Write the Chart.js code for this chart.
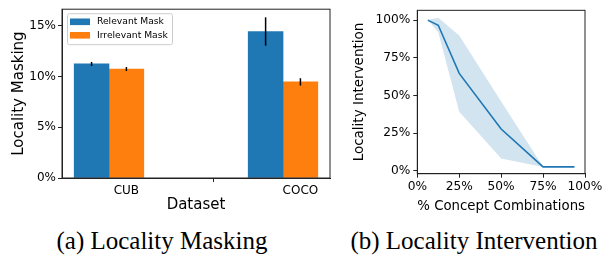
<!DOCTYPE html>
<html>
<head>
<meta charset="utf-8">
<script src="https://cdn.jsdelivr.net/npm/chart.js@4.4.1/dist/chart.umd.min.js"></script>
<style>
body { margin: 0; background: #fff; width: 608px; height: 259px; overflow: hidden; position: relative; }
canvas { position: absolute; top: 0; }
#maskChart { left: 0; }
#interventionChart { left: 340px; }
.caption { position: absolute; top: 227px; font-family: 'Liberation Serif'; font-size: 25px; line-height: 28px; color: #000; white-space: nowrap; transform: translateX(-50%); }
</style>
</head>
<body>
<canvas id="maskChart" width="340" height="220"></canvas>
<canvas id="interventionChart" width="268" height="220"></canvas>
<div class="caption" style="left:162px">(a) Locality Masking</div>
<div class="caption" style="left:474px">(b) Locality Intervention</div>
<script>
// (a) locality masking
const categories = ['CUB', 'COCO'];
const relevantMask = [11.25, 14.45];
const relevantErr = [0.2, 1.4];
const irrelevantMask = [10.75, 9.48];
const irrelevantErr = [0.2, 0.36];
const maskTicks = [0, 5, 10, 15];

// (b) locality intervention
const combinations = [6.25, 12.5, 25, 50, 75, 93.75];
const interventionMean = [100, 96.6, 64.6, 27.7, 2.5, 2.5];
const interventionUpper = [100, 101.6, 89.7, 46, 2.6, 2.5];
const interventionLower = [100, 92, 39.2, 8.1, 2.4, 2.5];
const interventionTicks = [0, 25, 50, 75, 100];
const combinationTicks = [0, 25, 50, 75, 100];

const BLUE = '#1f77b4';
const ORANGE = '#ff7f0e';
const INK = '#222';
Chart.defaults.font.family = 'DejaVu Sans';
Chart.defaults.color = '#000';

const barWidth = 0.2;

const frame = {
    id: 'frame',
    afterDraw(chart) {
        const {ctx, chartArea: a} = chart;
        ctx.save();
        ctx.strokeStyle = INK;
        ctx.lineWidth = 1;
        ctx.strokeRect(a.left, a.top, a.right - a.left, a.bottom - a.top);
        ctx.restore();
    }
};

const errorBars = {
    id: 'errorBars',
    afterDatasetsDraw(chart) {
        const ctx = chart.ctx;
        const yScale = chart.scales.y;
        chart.data.datasets.forEach((ds, di) => {
            const meta = chart.getDatasetMeta(di);
            meta.data.forEach((bar, i) => {
                const v = ds.data[i].y;
                const e = ds.errors[i];
                ctx.save();
                ctx.strokeStyle = '#000';
                ctx.lineWidth = 1.5;
                ctx.beginPath();
                ctx.moveTo(bar.x, yScale.getPixelForValue(v - e));
                ctx.lineTo(bar.x, yScale.getPixelForValue(v + e));
                ctx.stroke();
                ctx.restore();
            });
        });
    }
};

const boxLegend = {
    id: 'boxLegend',
    afterDraw(chart) {
        const {ctx, chartArea: a} = chart;
        const x = a.left + 5, y = a.top + 4, w = 105, h = 31;
        ctx.save();
        ctx.fillStyle = 'rgba(255,255,255,0.8)';
        ctx.strokeStyle = '#ccc';
        ctx.lineWidth = 1;
        ctx.beginPath();
        ctx.roundRect(x + 0.5, y + 0.5, w, h, 2);
        ctx.fill();
        ctx.stroke();
        ctx.font = '9.2px "DejaVu Sans"';
        ctx.textBaseline = 'middle';
        chart.data.datasets.forEach((ds, i) => {
            const rowY = y + 8.5 + i * 13.5;
            ctx.fillStyle = ds.backgroundColor;
            ctx.fillRect(x + 3, rowY - 3.2, 20, 6.6);
            ctx.fillStyle = '#000';
            ctx.fillText(ds.label, x + 30, rowY);
        });
        ctx.restore();
    }
};

function pctTick(v) {
    return v + '%';
}

new Chart(document.getElementById('maskChart'), {
    type: 'bar',
    data: {
        datasets: [
            {
                label: 'Relevant Mask',
                data: relevantMask.map((v, i) => ({x: i, y: v})),
                errors: relevantErr,
                backgroundColor: BLUE
            },
            {
                label: 'Irrelevant Mask',
                data: irrelevantMask.map((v, i) => ({x: i + barWidth, y: v})),
                errors: irrelevantErr,
                backgroundColor: ORANGE
            }
        ]
    },
    options: {
        responsive: false,
        animation: false,
        layout: {padding: {top: 8, right: 10, left: 0, bottom: 0}},
        datasets: {bar: {grouped: false, categoryPercentage: 1, barPercentage: 1}},
        plugins: {legend: {display: false}, tooltip: {enabled: false}},
        scales: {
            x: {
                type: 'linear',
                min: -0.17,
                max: 1.37,
                offset: false,
                afterBuildTicks: s => { s.ticks = categories.map((c, i) => ({value: i + barWidth})); },
                afterFit: s => { s.height = 42; },
                ticks: {callback: (v, i) => categories[i], font: {size: 12}, padding: 2, maxRotation: 0},
                grid: {drawOnChartArea: false, tickLength: 4, color: INK},
                border: {color: INK},
                title: {display: true, text: 'Dataset', font: {size: 15}, padding: {top: 0, bottom: 6}}
            },
            y: {
                min: 0,
                max: 16.65,
                afterBuildTicks: s => { s.ticks = maskTicks.map(v => ({value: v})); },
                afterFit: s => { s.width = 62; },
                ticks: {callback: pctTick, font: {size: 12}, padding: 2},
                grid: {drawOnChartArea: false, tickLength: 4, color: INK},
                border: {color: INK},
                title: {display: true, text: 'Locality Masking', font: {size: 15}, padding: {top: 10, bottom: 0}}
            }
        }
    },
    plugins: [errorBars, frame, boxLegend]
});

const toPoints = ys => ys.map((y, i) => ({x: combinations[i], y}));

new Chart(document.getElementById('interventionChart'), {
    type: 'line',
    data: {
        datasets: [
            {
                data: toPoints(interventionLower),
                borderColor: 'rgba(0,0,0,0)',
                pointRadius: 0,
                fill: false
            },
            {
                data: toPoints(interventionUpper),
                borderColor: 'rgba(0,0,0,0)',
                backgroundColor: 'rgba(31,119,180,0.2)',
                pointRadius: 0,
                fill: '-1'
            },
            {
                data: toPoints(interventionMean),
                borderColor: BLUE,
                borderWidth: 1.6,
                pointRadius: 0,
                fill: false
            }
        ]
    },
    options: {
        responsive: false,
        animation: false,
        layout: {padding: {top: 7.3, right: 23, left: 0, bottom: 0}},
        plugins: {legend: {display: false}, tooltip: {enabled: false}},
        scales: {
            x: {
                type: 'linear',
                min: 0,
                max: 100,
                afterBuildTicks: s => { s.ticks = combinationTicks.map(v => ({value: v})); },
                afterFit: s => { s.height = 46.3; },
                ticks: {callback: pctTick, font: {size: 12.2}, padding: 2, maxRotation: 0},
                grid: {drawOnChartArea: false, tickLength: 4, color: INK},
                border: {color: INK},
                title: {display: true, text: '% Concept Combinations', font: {size: 14}, padding: {top: 0, bottom: 5}}
            },
            y: {
                min: -2,
                max: 106.5,
                afterBuildTicks: s => { s.ticks = interventionTicks.map(v => ({value: v})); },
                afterFit: s => { s.width = 77.3; },
                ticks: {callback: pctTick, font: {size: 12.2}, padding: 3},
                grid: {drawOnChartArea: false, tickLength: 4, color: INK},
                border: {color: INK},
                title: {display: true, text: 'Locality Intervention', font: {size: 13.5}, padding: {top: 11.5, bottom: 0}}
            }
        }
    },
    plugins: [frame]
});
</script>
</body>
</html>
